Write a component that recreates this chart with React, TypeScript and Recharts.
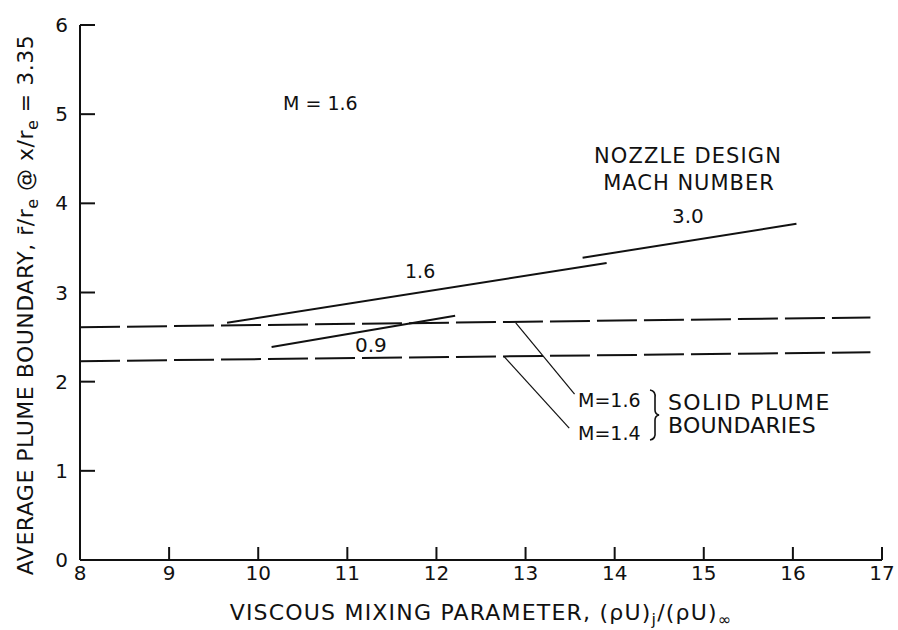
import { LineChart, Line, XAxis, YAxis } from "recharts"

// nozzle design Mach number curves (x = viscous mixing parameter, y = r/re)
const mach09 = [
  { x: 10.15, y: 2.39 },
  { x: 12.21, y: 2.74 },
]
const mach16 = [
  { x: 9.65, y: 2.66 },
  { x: 13.91, y: 3.33 },
]
const mach30 = [
  { x: 13.64, y: 3.39 },
  { x: 16.04, y: 3.77 },
]

// solid plume boundaries (dashed)
const solidM16 = [
  { x: 8, y: 2.61 },
  { x: 16.87, y: 2.72 },
]
const solidM14 = [
  { x: 8, y: 2.23 },
  { x: 16.87, y: 2.33 },
]

// leader lines to the M labels
const leaderM16 = [
  { x: 12.89, y: 2.66 },
  { x: 13.55, y: 1.86 },
]
const leaderM14 = [
  { x: 12.76, y: 2.28 },
  { x: 13.49, y: 1.48 },
]

const xTicks = [8, 9, 10, 11, 12, 13, 14, 15, 16, 17]
const yTicks = [0, 1, 2, 3, 4, 5, 6]

const font = "'DejaVu Sans', Verdana, sans-serif"
const ink = "#111"
const tickStyle = { fontSize: 20, fill: ink, fontFamily: font }

export default function App() {
  return (
    <div style={{ position: "absolute", left: 0, top: 0, width: 898, height: 630, background: "#fff" }}>
      <LineChart width={898} height={630} margin={{ top: 25, right: 16, bottom: 0, left: 0 }}>
        {/* negative tickSize turns the ticks inward, tickMargin pushes labels back out */}
        <XAxis
          type="number"
          dataKey="x"
          domain={[8, 17]}
          ticks={xTicks}
          allowDataOverflow
          height={70}
          tickSize={-13}
          tickMargin={19}
          tick={tickStyle}
          tickLine={{ stroke: ink, strokeWidth: 2 }}
          axisLine={{ stroke: ink, strokeWidth: 2 }}
        />
        <YAxis
          type="number"
          dataKey="y"
          domain={[0, 6]}
          ticks={yTicks}
          allowDataOverflow
          width={80}
          tickSize={-15}
          tickMargin={27}
          tick={tickStyle}
          tickLine={{ stroke: ink, strokeWidth: 2 }}
          axisLine={{ stroke: ink, strokeWidth: 2 }}
        />
        <Line data={solidM16} dataKey="y" stroke={ink} strokeWidth={2} strokeDasharray="40 7" dot={false} isAnimationActive={false} />
        <Line data={solidM14} dataKey="y" stroke={ink} strokeWidth={2} strokeDasharray="40 7" dot={false} isAnimationActive={false} />
        <Line data={mach09} dataKey="y" stroke={ink} strokeWidth={2} dot={false} isAnimationActive={false} />
        <Line data={mach16} dataKey="y" stroke={ink} strokeWidth={2} dot={false} isAnimationActive={false} />
        <Line data={mach30} dataKey="y" stroke={ink} strokeWidth={2} dot={false} isAnimationActive={false} />
        <Line data={leaderM16} dataKey="y" stroke={ink} strokeWidth={1.2} dot={false} isAnimationActive={false} />
        <Line data={leaderM14} dataKey="y" stroke={ink} strokeWidth={1.2} dot={false} isAnimationActive={false} />
      </LineChart>
      <svg
        width={898}
        height={630}
        style={{ position: "absolute", left: 0, top: 0, pointerEvents: "none" }}
        fontFamily={font}
        fill={ink}
      >
        <text x={25} y={305} dy="0.35em" transform="rotate(-90 25 305)" textAnchor="middle" fontSize={22} letterSpacing={0.5}>
          AVERAGE PLUME BOUNDARY, r̄/r<tspan dy={5} fontSize={16}>e</tspan>
          <tspan dy={-5}> @ x/r</tspan>
          <tspan dy={5} fontSize={16}>e</tspan>
          <tspan dy={-5}> = 3.35</tspan>
        </text>
        <text x={481} y={620} textAnchor="middle" fontSize={22} letterSpacing={1.2}>
          VISCOUS MIXING PARAMETER, (ρU)<tspan dy={5} fontSize={16}>j</tspan>
          <tspan dy={-5}>/(ρU)</tspan>
          <tspan dy={5} fontSize={16}>∞</tspan>
        </text>
        <text x={283} y={110} fontSize={19}>M = 1.6</text>
        <text x={405} y={278} fontSize={19}>1.6</text>
        <text x={355} y={352} fontSize={20}>0.9</text>
        <text x={688} y={163} textAnchor="middle" fontSize={21} letterSpacing={1.1}>NOZZLE DESIGN</text>
        <text x={689} y={190} textAnchor="middle" fontSize={21} letterSpacing={1}>MACH NUMBER</text>
        <text x={672} y={223} fontSize={20}>3.0</text>
        <text x={578} y={407} fontSize={19}>M=1.6</text>
        <text x={578} y={440} fontSize={19}>M=1.4</text>
        <path
          d="M 650 390 Q 656 391 655 398 L 655 410 Q 655 414 659 415 Q 655 416 655 420 L 655 432 Q 656 439 650 440"
          fill="none"
          stroke={ink}
          strokeWidth={1.6}
        />
        <text x={668} y={410} fontSize={22} letterSpacing={1.4}>SOLID PLUME</text>
        <text x={668} y={433} fontSize={22} letterSpacing={0.2}>BOUNDARIES</text>
      </svg>
    </div>
  )
}
